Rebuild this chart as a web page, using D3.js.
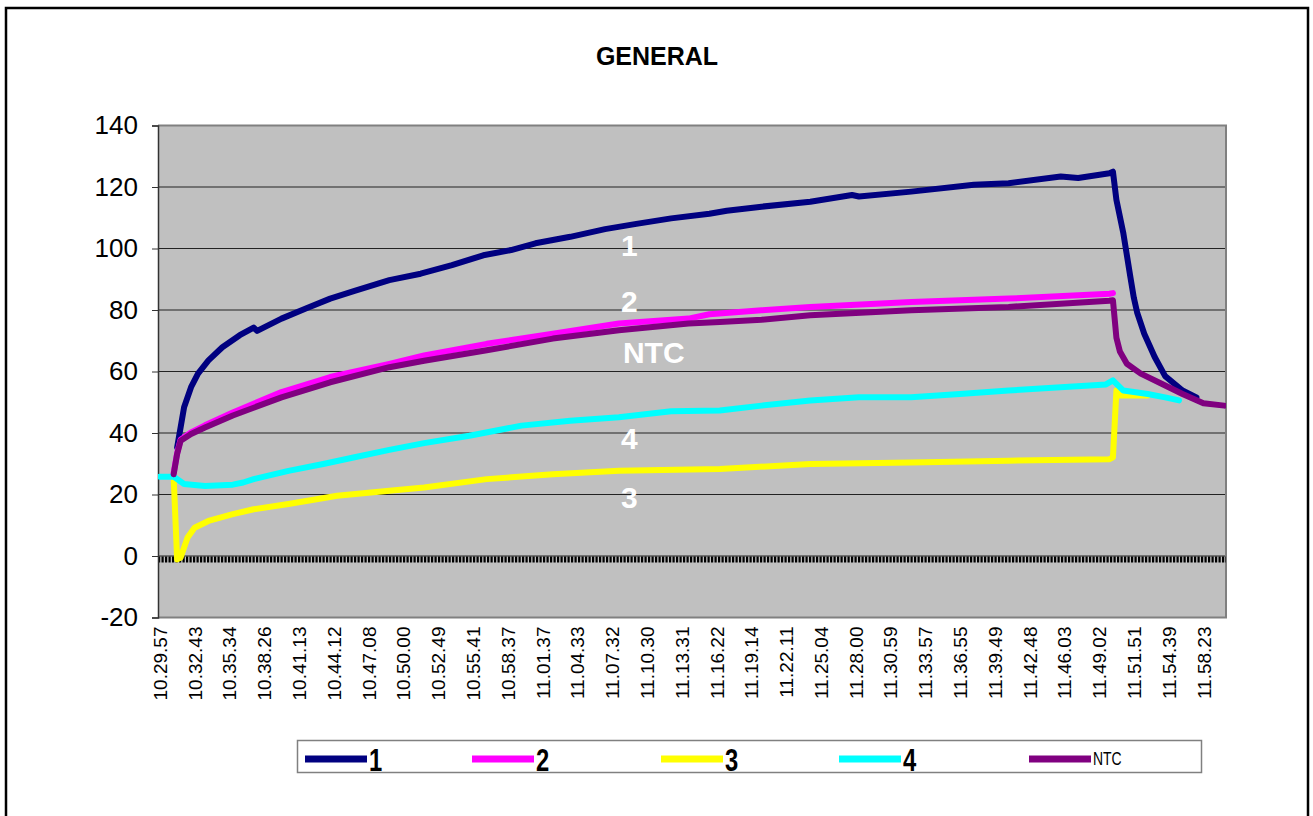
<!DOCTYPE html>
<html>
<head>
<meta charset="utf-8">
<script src="https://cdn.jsdelivr.net/npm/d3@7"></script>
<style>
  html, body { margin: 0; padding: 0; background: #fff; }
  svg { display: block; }
</style>
</head>
<body>
<svg id="chart" width="1313" height="816"></svg>
<script>
// ---------- DATA ----------
const chartTitle = "GENERAL";
const categoryCount = 307;          // number of samples on the category axis
const labelStep = 10;               // one time label every 10 samples
const timeLabels = [
  "10.29.57","10.32.43","10.35.34","10.38.26","10.41.13","10.44.12","10.47.08",
  "10.50.00","10.52.49","10.55.41","10.58.37","11.01.37","11.04.33","11.07.32",
  "11.10.30","11.13.31","11.16.22","11.19.14","11.22.11","11.25.04","11.28.00",
  "11.30.59","11.33.57","11.36.55","11.39.49","11.42.48","11.46.03","11.49.02",
  "11.51.51","11.54.39","11.58.23"
];
const yTicks = [-20, 0, 20, 40, 60, 80, 100, 120, 140];

// sample index -> value for each series
const s1Cat = [5,7,9,11,14,18,23,27,28,35,42,49,56,66,75,84,93,101,108,118,128,137,147,158,163,173,187,199,201,216,234,244,259,264,273,274,275,277,279,280,281,283,286,289,294,298];
const s1Val = [35.3,48.4,54.9,59.3,63.6,67.9,71.8,74.3,73.2,77.2,80.5,83.7,86.2,89.7,91.8,94.6,97.8,99.5,101.7,103.8,106.3,108.0,109.8,111.3,112.3,113.6,115.2,117.4,116.9,118.5,120.7,121.2,123.4,122.9,124.5,125.0,115.8,104.9,90.8,84.0,79.0,72.3,64.7,58.5,53.8,51.6];

const s2Cat = [4,5,6,9,13,21,35,49,66,76,94,113,132,152,158,173,187,216,244,273,274];
const s2Val = [27.0,33.5,37.8,40.2,42.5,46.7,53.3,58.2,62.5,65.2,69.0,72.3,75.6,77.2,78.6,79.9,81.0,82.6,83.7,85.3,85.5];

const s3Cat = [4,5,6,8,10,14,21,27,37,51,66,76,94,113,132,161,187,216,244,273,274,275,276,284];
const s3Val = [25.6,-1.1,-0.5,6.0,9.2,11.4,13.6,15.2,16.9,19.6,21.2,22.3,25.0,26.6,27.7,28.3,29.9,30.4,31.0,31.5,32.1,53.8,52.2,52.2];

const s4Cat = [0,4,7,13,21,24,27,37,47,56,66,76,89,104,118,132,147,161,173,187,201,216,230,244,259,272,274,277,284,289,293];
const s4Val = [25.8,25.8,23.4,22.8,23.2,23.9,25.0,27.7,29.9,32.1,34.5,36.7,39.1,42.4,44.0,45.1,47.1,47.3,48.9,50.6,51.6,51.6,52.7,53.8,54.9,55.8,57.1,53.8,52.7,51.6,50.6];

const ntcCat = [4,5,6,9,13,21,35,49,66,76,94,113,132,152,161,173,187,216,244,273,274,275,276,278,282,288,294,300,306];
const ntcVal = [26.6,33.2,37.5,39.7,41.8,45.7,51.6,56.5,61.4,63.5,66.9,70.7,73.4,75.6,76.1,76.8,78.3,79.9,81.0,83.0,83.2,71.0,66.5,62.5,59.3,56.0,52.7,49.7,48.9];

const seriesNames  = ["1", "2", "3", "4", "NTC"];
const seriesColors = ["#000080", "#FF00FF", "#FFFF00", "#00FFFF", "#800080"];
const seriesCats   = [s1Cat, s2Cat, s3Cat, s4Cat, ntcCat];
const seriesVals   = [s1Val, s2Val, s3Val, s4Val, ntcVal];

// in-plot annotation labels (series name, anchored at sample / value)
const annoText = ["1", "2", "NTC", "4", "3"];
const annoCat  = [135, 135, 142, 135, 135];
const annoVal  = [97.5, 79.5, 62.8, 34.8, 15.5];

// ---------- LAYOUT ----------
const svg = d3.select("#chart");
const plot = { left: 158, right: 1226, top: 125.5, bottom: 617.5 };
const font = "'Liberation Sans', Arial, Helvetica, sans-serif";
const narrow = "'Liberation Sans Narrow', 'Arial Narrow', 'Liberation Sans', Arial, sans-serif";

const x = d3.scaleLinear().domain([-0.5, categoryCount - 0.5]).range([plot.left, plot.right]);
const y = d3.scaleLinear().domain([-20, 140]).range([plot.bottom, plot.top]);

// outer frame
svg.append("rect")
  .attr("x", 6).attr("y", 8).attr("width", 1302).attr("height", 830)
  .attr("fill", "#fff").attr("stroke", "#000").attr("stroke-width", 2.5);

// title
svg.append("text")
  .attr("x", 657).attr("y", 65)
  .attr("text-anchor", "middle")
  .attr("font-family", font).attr("font-weight", "bold").attr("font-size", 25)
  .text(chartTitle);

// plot background
svg.append("rect")
  .attr("x", plot.left).attr("y", plot.top)
  .attr("width", plot.right - plot.left).attr("height", plot.bottom - plot.top)
  .attr("fill", "#C0C0C0");

// gridlines
svg.append("g").selectAll("line")
  .data(yTicks.filter(d => d > -20 && d < 140))
  .join("line")
  .attr("x1", plot.left).attr("x2", plot.right)
  .attr("y1", d => y(d)).attr("y2", d => y(d))
  .attr("stroke", "#222").attr("stroke-width", 1.2);

// plot border (gray)
svg.append("path")
  .attr("d", `M${plot.left},${plot.top}H${plot.right}V${plot.bottom}H${plot.left}`)
  .attr("fill", "none").attr("stroke", "#808080").attr("stroke-width", 2);

// zero category axis (dotted heavy line)
svg.append("line")
  .attr("x1", plot.left).attr("x2", plot.right)
  .attr("y1", y(0) + 3.5).attr("y2", y(0) + 3.5)
  .attr("stroke", "#000").attr("stroke-width", 6)
  .attr("stroke-dasharray", "2.2,1.3");

// y axis
const yAxis = d3.axisLeft(y).tickValues(yTicks).tickFormat(d => String(d)).tickSize(6).tickPadding(14);
const gy = svg.append("g").attr("transform", `translate(${plot.left},0)`).call(yAxis);
gy.select(".domain").attr("stroke", "#333").attr("stroke-width", 1.5);
gy.selectAll(".tick line").attr("stroke", "#333");
gy.selectAll("text")
  .attr("font-family", font).attr("font-size", 26).attr("fill", "#000");

// x axis labels (category axis)
const xTickCats = timeLabels.map((_, i) => i * labelStep);
const xAxis = d3.axisBottom(x).tickValues(xTickCats)
  .tickFormat((d, i) => timeLabels[i]).tickSize(0).tickPadding(0);
const gx = svg.append("g").attr("transform", `translate(0,${plot.bottom})`).call(xAxis);
gx.select(".domain").remove();
gx.selectAll("text")
  .attr("font-family", font).attr("font-size", 19).attr("fill", "#000")
  .attr("text-anchor", "end")
  .attr("dy", "0.35em")
  .attr("transform", "translate(0,9) rotate(-90)")
  .attr("x", 0).attr("y", 0);

// series lines
svg.append("clipPath").attr("id", "clip")
  .append("rect").attr("x", plot.left).attr("y", plot.top)
  .attr("width", plot.right - plot.left).attr("height", plot.bottom - plot.top);

const line = d3.line().x(d => x(d[0])).y(d => y(d[1]));
const gl = svg.append("g").attr("clip-path", "url(#clip)");
seriesNames.forEach((name, k) => {
  const pts = seriesCats[k].map((c, i) => [c, seriesVals[k][i]]);
  gl.append("path")
    .datum(pts)
    .attr("d", line)
    .attr("fill", "none")
    .attr("stroke", seriesColors[k])
    .attr("stroke-width", 6)
    .attr("stroke-linejoin", "round")
    .attr("stroke-linecap", "round");
});

// in-plot labels
svg.append("g").selectAll("text")
  .data(annoText)
  .join("text")
  .attr("x", (d, i) => x(annoCat[i]))
  .attr("y", (d, i) => y(annoVal[i]))
  .attr("text-anchor", "middle")
  .attr("font-family", font).attr("font-weight", "bold").attr("font-size", 30)
  .attr("fill", "#fff")
  .text(d => d);

// legend
const legend = svg.append("g");
legend.append("rect")
  .attr("x", 297.5).attr("y", 740.5).attr("width", 904).attr("height", 32)
  .attr("fill", "#fff").attr("stroke", "#808080").attr("stroke-width", 1.5);
const legendX = [305, 472, 661, 839, 1029];
seriesNames.forEach((name, k) => {
  const lx = legendX[k];
  legend.append("line")
    .attr("x1", lx).attr("x2", lx + 62)
    .attr("y1", 759).attr("y2", 759)
    .attr("stroke", seriesColors[k]).attr("stroke-width", 7);
  const isSmall = name === "NTC";
  legend.append("text")
    .attr("transform", `translate(${lx + 64},${isSmall ? 765 : 771}) scale(0.82,1.1)`)
    .attr("font-family", narrow)
    .attr("font-weight", isSmall ? "normal" : "bold")
    .attr("font-size", isSmall ? 17 : 29)
    .attr("fill", "#000")
    .text(name);
});
</script>
</body>
</html>
